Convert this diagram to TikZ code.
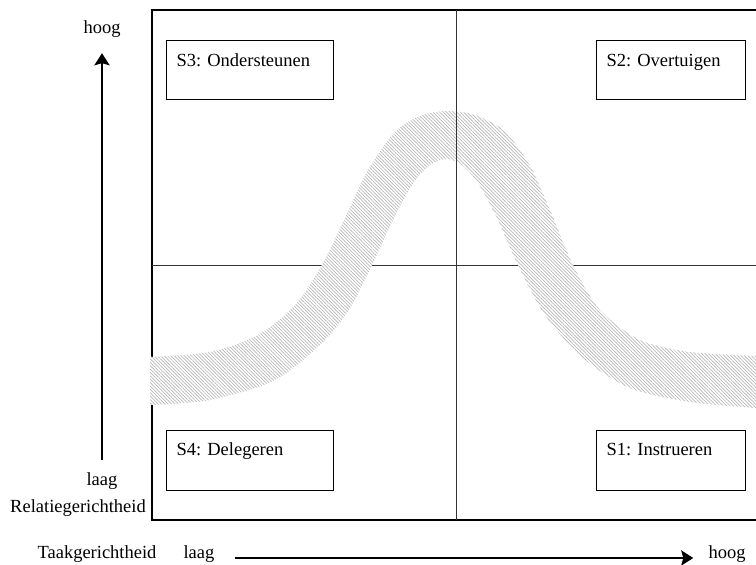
\documentclass[tikz,border=0pt]{standalone}
\usepackage{fontspec}
\setmainfont{Liberation Serif}
\frenchspacing
\usetikzlibrary{arrows.meta,patterns.meta}
\tikzset{
    tekst/.style={font=\fontsize{18.5}{22}\selectfont, inner sep=0pt},
    vak/.style={tekst, draw, line width=1pt, anchor=north west,
                inner xsep=10pt, inner ysep=0pt, text height=26pt,
                text depth=33pt, align=left},
    vakonder/.style={vak, text height=25pt, text depth=35pt},
    aspijl/.style={-{Stealth[length=12pt, width=15pt, inset=2pt]},
                   line width=2.5pt},
    rand/.style={line width=1.3pt},
    deel/.style={line width=1pt, black!80},
    band/.style={preaction={fill=white},
                 pattern={Lines[angle=-45, distance=2.4pt, line width=0.7pt]},
                 pattern color=gray!55},
}

\begin{document}
\begin{tikzpicture}[x=1pt, y=-1pt]
    \useasboundingbox (0,0) rectangle (756,565);

    % kader en horizontale scheiding
    \draw[rand] (756,10) -- (152,10) -- (152,520) -- (756,520);
    \draw[deel] (152,265) -- (756,265);

    % de band
    \path[band] plot[smooth] coordinates {(150,357) (210,352) (258,335)
            (295,305) (322,265) (345,218) (368,170) (395,132) (420,116)
            (447,111) (475,115) (503,130) (528,162) (550,210) (573,265)
            (600,310) (640,340) (690,352) (756,356)}
        -- plot[smooth] coordinates {(756,408) (690,402) (630,388)
            (583,358) (545,315) (518,265) (497,218) (478,183) (462,165)
            (447,159) (430,165) (412,185) (392,222) (372,265) (350,308)
            (323,342) (275,380) (210,400) (150,405)}
        -- cycle;

    \draw[deel] (456,10) -- (456,520);

    % stijlen
    \node[vak, text width=147pt] (s3) at (166,40) {S3: Ondersteunen};
    \node[vak, text width=129pt] (s2) at (596,40) {S2: Overtuigen};
    \node[vakonder, text width=147pt] (s4) at (166,430) {S4: Delegeren};
    \node[vakonder, text width=129pt] (s1) at (596,430) {S1: Instrueren};

    % assen
    \node[tekst, anchor=base] (hoogy) at (102,33) {hoog};
    \node[tekst, anchor=base] (laagy) at (102,485) {laag};
    \node[tekst, anchor=base] (relatie) at (78,512) {Relatiegerichtheid};
    \node[tekst, anchor=base] (taak) at (97,558) {Taakgerichtheid};
    \node[tekst, anchor=base] (laagx) at (199,558) {laag};
    \node[tekst, anchor=base] (hoogx) at (727,558) {hoog};

    \draw[aspijl, shorten <=12pt, shorten >=16pt] (laagy.north) -- (hoogy.south);
    \draw[aspijl, shorten <=20pt, shorten >=15pt] (laagx.base east) -- (hoogx.base west);

\end{tikzpicture}
\end{document}
